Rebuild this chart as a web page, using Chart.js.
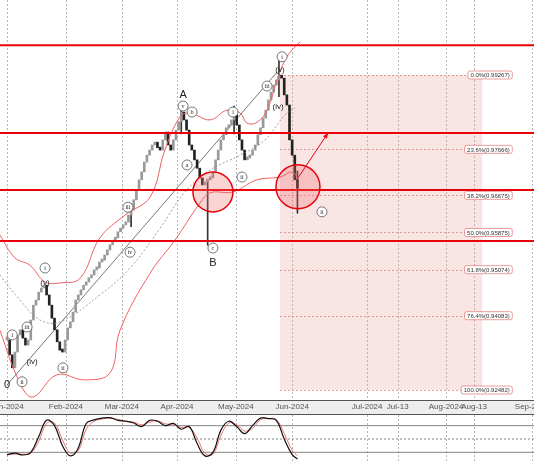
<!DOCTYPE html>
<html><head><meta charset="utf-8">
<script src="https://cdn.jsdelivr.net/npm/chart.js@4"></script>
<style>
html,body{margin:0;padding:0;background:#fff;width:534px;height:462px;overflow:hidden}
#w1{position:absolute;left:0;top:0;width:534px;height:414px}
#w2{position:absolute;left:0;top:414px;width:534px;height:48px;border-top:1px solid #555}
</style></head><body>
<div id="w1"><canvas id="c1"></canvas></div>
<div id="w2"><canvas id="c2"></canvas></div>
<script>
// ---- data ----
const closes = [0.9356,0.9324,0.9296,0.9330,0.9367,0.9378,0.9360,0.9345,0.9356,0.9399,0.9431,
0.9442,0.9459,0.9468,0.9474,0.9453,0.9431,0.9403,0.9378,0.9352,0.9334,0.9330,
0.9356,0.9382,0.9395,0.9416,0.9442,0.9453,0.9464,0.9474,0.9481,0.9490,0.9496,
0.9507,0.9511,0.9524,0.9528,0.9539,0.9550,0.9561,0.9571,0.9576,0.9589,0.9597,
0.9604,0.9610,0.9625,0.9636,0.9658,0.9679,0.9701,0.9718,0.9739,0.9754,0.9765,
0.9776,0.9782,0.9770,0.9765,0.9787,0.9804,0.9776,0.9765,0.9787,0.9808,0.9826,
0.9847,0.9830,0.9808,0.9776,0.9765,0.9744,0.9726,0.9705,0.9690,0.9696,0.9701,
0.9705,0.9718,0.9744,0.9765,0.9787,0.9798,0.9813,0.9819,0.9830,0.9841,0.9819,
0.9787,0.9765,0.9744,0.9748,0.9754,0.9765,0.9776,0.9798,0.9813,0.9834,0.9851,
0.9873,0.9890,0.9905,0.9916,0.9925,0.9920,0.9884,0.9862,0.9787,0.9754,0.9701,0.9683];
const wickIdx = [76,103,110,66,86,47];
const wickLow = [0.9560,0.9880,0.9629,0.9800,0.9800,0.9600];
const wickHigh = [0.9700,0.9958,0.9720,0.9870,0.9860,0.9650];
const upperBand = [[-2.7,0.9582],[3.0,0.9533],[8.7,0.9517],[14.4,0.9481],[20.1,0.9479],[27.7,0.9489],[35.2,0.9576],[44.7,0.9625],[54.2,0.9664],[59.8,0.9765],[65.5,0.9836],[69.3,0.9845],[76.9,0.9830],[83.3,0.9851],[88.3,0.9845],[90.9,0.9823],[94.7,0.9825],[98.5,0.9851],[102.3,0.9916],[105.3,0.9959],[108,0.9981],[111,0.9998]];
const lowerBand = [[-2.7,0.9377],[4.9,0.9263],[9.8,0.9233],[18.9,0.9281],[29.5,0.9270],[39.0,0.9285],[42.8,0.9377],[54.2,0.9500],[63.6,0.9571],[73.1,0.9651],[76.9,0.9673],[85.6,0.9675],[94.7,0.9701],[103.4,0.9707],[108,0.9718],[110.2,0.9705]];
const midBand = [[-2.7,0.9496],[4.9,0.9442],[12.5,0.9399],[20.1,0.9395],[35.2,0.9453],[46.6,0.9511],[58.0,0.9597],[67.4,0.9675],[76.9,0.9722],[88.3,0.9754],[97.7,0.9787],[105.3,0.9841],[109.1,0.9856]];
const trendLine = [[0,0.9259],[102.3,0.9933]];
const resistanceLevels = [0.9991,0.9802,0.9679,0.9569];
const fibStart = 103.4, fibEnd = 180, fibLabelX = 191;
const fibPct = ["0.0%","23.6%","38.2%","50.0%","61.8%","76.4%","100.0%"];
const fibPrice = [0.99267,0.97666,0.96675,0.95875,0.95074,0.94083,0.92482];
const circles = [[78.0,0.9675],[110.2,0.9686]];
const arrow = [[110.2,0.9705],[121.6,0.9802]];
const waveLabels = [
 [0,0.9259,"0",0],[14.4,0.9511,"i",1],[14.4,0.9479,"(v)",0],[7.6,0.9384,"iii",1],[2,0.9367,"i",1],
 [9.5,0.9309,"(iv)",0],[5.7,0.9266,"ii",1],[21.2,0.9296,"ii",1],[45.8,0.9642,"iii",1],[46.6,0.9545,"iv",1],
 [68.2,0.9733,"a",1],[66.7,0.9860,"v",1],[70.1,0.9847,"b",1],[66.7,0.9884,"A",0],[78.0,0.9554,"c",1],
 [78.0,0.9522,"B",0],[85.6,0.9847,"i",1],[89,0.9707,"ii",1],[98.5,0.9903,"iii",1],[102.7,0.9858,"(iv)",0],
 [103.4,0.9938,"(v)",0],[104.2,0.9966,"i",1],[119.3,0.9632,"ii",1]];
const tickPos = [0,22.3,43.5,64.4,86.7,108,136.4,148,166.3,176.9,198.9];
const tickLabels = ["Jan-2024","Feb-2024","Mar-2024","Apr-2024","May-2024","Jun-2024","Jul-2024","Jul-13","Aug-2024","Aug-13","Sep-2024"];
const stochIdx = [0,3,6,9,12,15,18,21,24,27,30,33,36,39,42,45,48,51,54,57,60,63,66,69,72,75,78,81,84,87,90,93,96,99,102,105,108,110];
const stochK = [15,18,14,20,55,92,80,35,12,30,85,93,97,98,92,90,86,78,92,90,80,85,72,78,40,12,20,70,90,78,62,80,97,96,92,50,15,5];
const stochD = [14,16,16,18,45,85,86,48,18,24,72,90,95,97,94,90,88,82,88,91,84,83,76,76,52,18,16,58,86,82,68,74,93,96,94,62,25,12];

// ---- build ----
const bars = closes.map((c,i)=>({x:i,y:[i===0?c:closes[i-1],c]}));
const wicks = wickIdx.map((ix,k)=>({x:ix,y:[wickLow[k],wickHigh[k]]}));
const pts = a=>a.map(p=>({x:p[0],y:p[1]}));
const XMIN=-2.65, XMAX=199.6;

function vgrid(ch){const c=ch.ctx,x=ch.scales.x,a=ch.chartArea;c.save();c.setLineDash([2,2]);c.strokeStyle='#999';c.lineWidth=0.7;
 tickPos.forEach(v=>{const xx=Math.round(x.getPixelForValue(v))+0.5;c.beginPath();c.moveTo(xx,a.top);c.lineTo(xx,a.bottom);c.stroke();});c.restore();}

const overlay = {id:'ov',
 beforeDatasetsDraw(ch){
  const c=ch.ctx,x=ch.scales.x,y=ch.scales.y,a=ch.chartArea;
  c.save();
  c.fillStyle='#eeeeee';c.fillRect(0,a.bottom,ch.width,ch.height-a.bottom);
  c.fillStyle='#555';
  c.font='8px Liberation Sans';c.textAlign='center';c.textBaseline='middle';
  tickPos.forEach((v,k)=>{c.fillText(tickLabels[k],x.getPixelForValue(v),a.bottom+7);});
  c.strokeStyle='#555';c.lineWidth=1;c.beginPath();c.moveTo(0,a.bottom+0.5);c.lineTo(ch.width,a.bottom+0.5);c.stroke();
  c.restore();
  vgrid(ch);
  c.save();
  c.fillStyle='rgba(240,170,170,0.3)';
  c.fillRect(x.getPixelForValue(fibStart),y.getPixelForValue(fibPrice[0]),x.getPixelForValue(fibEnd)-x.getPixelForValue(fibStart),y.getPixelForValue(fibPrice[6])-y.getPixelForValue(fibPrice[0]));
  c.setLineDash([2,2]);c.strokeStyle='rgba(220,60,60,0.7)';c.lineWidth=0.7;
  fibPrice.forEach(p=>{const yy=Math.round(y.getPixelForValue(p))+0.5;c.beginPath();c.moveTo(x.getPixelForValue(fibStart),yy);c.lineTo(x.getPixelForValue(fibLabelX),yy);c.stroke();});
  c.setLineDash([]);
  c.strokeStyle='#555';c.lineWidth=0.8;
  c.beginPath();c.moveTo(x.getPixelForValue(trendLine[0][0]),y.getPixelForValue(trendLine[0][1]));c.lineTo(x.getPixelForValue(trendLine[1][0]),y.getPixelForValue(trendLine[1][1]));c.stroke();
  c.restore();
 },
 afterDatasetsDraw(ch){
  const c=ch.ctx,x=ch.scales.x,y=ch.scales.y,a=ch.chartArea;
  c.save();
  c.strokeStyle='#e8000a';c.lineWidth=2;
  resistanceLevels.forEach(p=>{const yy=y.getPixelForValue(p);c.beginPath();c.moveTo(a.left,yy);c.lineTo(a.right,yy);c.stroke();});
  circles.forEach((p,k)=>{c.beginPath();c.arc(x.getPixelForValue(p[0]),y.getPixelForValue(p[1]),k?22:20,0,Math.PI*2);c.fillStyle='rgba(240,110,110,0.3)';c.fill();c.lineWidth=1.5;c.strokeStyle='#e8000a';c.stroke();});
  const x0=x.getPixelForValue(arrow[0][0]),y0=y.getPixelForValue(arrow[0][1]),x1=x.getPixelForValue(arrow[1][0]),y1=y.getPixelForValue(arrow[1][1]);
  c.lineWidth=1;c.beginPath();c.moveTo(x0,y0);c.lineTo(x1,y1);c.stroke();
  const an=Math.atan2(y1-y0,x1-x0);c.fillStyle='#e8000a';c.beginPath();c.moveTo(x1,y1);c.lineTo(x1-6*Math.cos(an-0.4),y1-6*Math.sin(an-0.4));c.lineTo(x1-6*Math.cos(an+0.4),y1-6*Math.sin(an+0.4));c.closePath();c.fill();
  c.font='6px Liberation Sans';c.textBaseline='middle';c.textAlign='right';
  fibPrice.forEach((p,k)=>{const t=fibPct[k]+'('+p.toFixed(5)+')';const w=c.measureText(t).width;const xx=x.getPixelForValue(fibLabelX);const yy=y.getPixelForValue(p);
   c.fillStyle='#fff';c.strokeStyle='rgba(220,80,80,0.8)';c.lineWidth=0.7;c.beginPath();c.roundRect(xx-w-4,yy-4,w+5,8,2);c.fill();c.stroke();c.fillStyle='#333';c.fillText(t,xx-1.5,yy+0.5);});
  c.textAlign='center';
  waveLabels.forEach(l=>{const xx=x.getPixelForValue(l[0]),yy=y.getPixelForValue(l[1]);
   if(l[3]){c.beginPath();c.arc(xx,yy,5,0,Math.PI*2);c.fillStyle='#fff';c.fill();c.strokeStyle='#555';c.lineWidth=0.8;c.stroke();c.fillStyle='#222';c.font='6px Liberation Serif';c.fillText(l[2],xx,yy+0.5);}
   else{c.fillStyle='#222';c.font=(l[2].length===1?'11px':'8px')+' Liberation Sans';c.fillText(l[2],xx,yy);}});
  c.restore();
 }};

new Chart(document.getElementById('c1'),{
 data:{datasets:[
  {type:'bar',data:wicks,backgroundColor:'#333',barThickness:1,grouped:false,order:2},
  {type:'bar',data:bars,backgroundColor:bars.map(b=>b.y[1]>=b.y[0]?'#999':'#222'),barThickness:2,minBarLength:3,grouped:false,order:1},
  {type:'line',data:pts(upperBand),borderColor:'#f06060',borderWidth:1,pointRadius:0,tension:0.4},
  {type:'line',data:pts(lowerBand),borderColor:'#f06060',borderWidth:1,pointRadius:0,tension:0.4},
  {type:'line',data:pts(midBand),borderColor:'#888',borderWidth:0.8,borderDash:[2,2],pointRadius:0,tension:0.4}
 ]},
 options:{responsive:true,maintainAspectRatio:false,animation:false,
  layout:{padding:{left:0,right:0,top:0,bottom:14}},
  plugins:{legend:{display:false},tooltip:{enabled:false}},
  scales:{x:{type:'linear',min:XMIN,max:XMAX,offset:false,display:false},y:{type:'linear',min:0.92267,max:1.00883,display:false}}},
 plugins:[overlay]});

const refLines={id:'ref',beforeDatasetsDraw(ch){vgrid(ch);const c=ch.ctx,y=ch.scales.y,a=ch.chartArea;c.save();
 [[80,[]],[50,[2,2]],[20,[]]].forEach(r=>{c.setLineDash(r[1]);c.strokeStyle='#666';c.lineWidth=0.8;const yy=y.getPixelForValue(r[0]);c.beginPath();c.moveTo(a.left,yy);c.lineTo(a.right,yy);c.stroke();});c.restore();}};
new Chart(document.getElementById('c2'),{
 type:'line',
 data:{datasets:[
  {data:stochIdx.map((v,i)=>({x:v,y:stochK[i]})),borderColor:'#111',borderWidth:1.2,pointRadius:0,tension:0.4},
  {data:stochIdx.map((v,i)=>({x:v,y:stochD[i]})),borderColor:'#f07070',borderWidth:1,pointRadius:0,tension:0.4}]},
 options:{responsive:true,maintainAspectRatio:false,animation:false,layout:{padding:0},
  plugins:{legend:{display:false},tooltip:{enabled:false}},
  scales:{x:{type:'linear',min:XMIN,max:XMAX,offset:false,display:false},y:{min:-4,max:104,display:false}}},
 plugins:[refLines]});
</script></body></html>
